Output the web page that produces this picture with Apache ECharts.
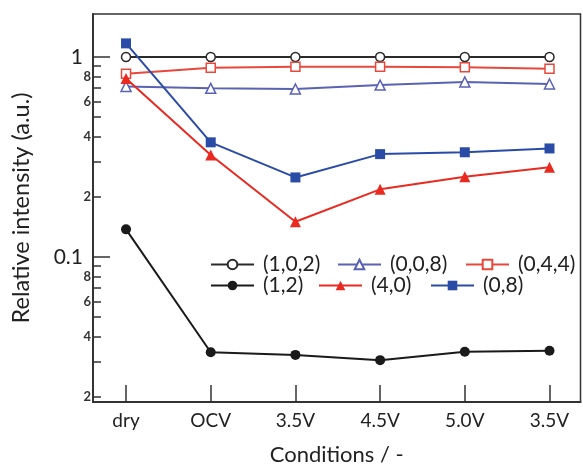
<!DOCTYPE html>
<html>
<head>
<meta charset="utf-8">
<script src="https://cdn.jsdelivr.net/npm/echarts@6/dist/echarts.min.js"></script>
<style>
html,body{margin:0;padding:0;background:#fff;}
#c{width:583px;height:467px;}
</style>
</head>
<body>
<div id="c"></div>
<script>
const categories = ['dry', 'OCV', '3.5V', '4.5V', '5.0V', '3.5V'];
const s102 = [1, 1, 1, 1, 1, 1];
const s008 = [0.713, 0.697, 0.692, 0.724, 0.75, 0.733];
const s044 = [0.825, 0.884, 0.895, 0.895, 0.89, 0.874];
const s12 = [0.1375, 0.0334, 0.0324, 0.0305, 0.0336, 0.034];
const s40 = [0.78, 0.324, 0.150, 0.218, 0.252, 0.281];
const s08 = [1.17, 0.3745, 0.250, 0.327, 0.334, 0.349];
const majorTicks = [0.1, 1];
const minorTicks = [0.02, 0.03, 0.04, 0.05, 0.06, 0.07, 0.08, 0.09, 0.2, 0.3, 0.4, 0.5, 0.6, 0.7, 0.8, 0.9];
const minorLabels = [0.02, 0.04, 0.06, 0.08, 0.2, 0.4, 0.6, 0.8];
const catIndex = [0, 1, 2, 3, 4, 5];
const seriesNames = ['(1,0,2)', '(0,0,8)', '(0,4,4)', '(1,2)', '(4,0)', '(0,8)'];

const FONT = 'Lato';
const pts = arr => arr.map((v, i) => [i, v]);

function mk(name, data, opts) {
  return Object.assign({
    name: name,
    type: 'line',
    data: pts(data),
    symbolSize: 10,
    lineStyle: { width: 2, color: opts.line },
    itemStyle: { color: opts.fill, borderColor: opts.line, borderWidth: opts.bw || 0 },
    emphasis: { disabled: true },
    animation: false
  }, opts.extra || {});
}

// legend placement (one legend per entry)
const legendPos = [[210, 254], [337, 254], [465, 254], [210, 275], [318, 275], [430, 275]];
const legends = seriesNames.map((n, i) => ({
  data: [n], left: legendPos[i][0], top: legendPos[i][1], padding: 0,
  itemWidth: 43, itemHeight: 12,
  textStyle: { fontFamily: FONT, fontSize: 21, color: '#222', padding: [0, 0, 0, 4] }
}));

const chart = echarts.init(document.getElementById('c'), null, { renderer: 'canvas' });
const option = {
  backgroundColor: '#fff',
  animation: false,
  textStyle: { fontFamily: FONT },
  grid: {
    left: 93, top: 14, right: 2.5, bottom: 65,
    show: true, borderColor: '#333', borderWidth: 1.5, backgroundColor: 'transparent',
    outerBoundsMode: 'none', containLabel: false
  },
  legend: legends,
  xAxis: {
    type: 'value',
    min: -0.39, max: 5.366,
    name: 'Conditions / -', nameLocation: 'middle', nameGap: 42,
    nameTextStyle: { fontFamily: FONT, fontSize: 22, color: '#222' },
    axisLine: { show: true, onZero: false, lineStyle: { color: '#333', width: 2 } },
    axisTick: { show: true, inside: true, length: 17, customValues: catIndex, lineStyle: { color: '#333', width: 1.5 } },
    axisLabel: { customValues: catIndex, fontFamily: FONT, fontSize: 19, color: '#222', margin: 9,
      formatter: v => categories[Math.round(v)] },
    splitLine: { show: false }
  },
  yAxis: [
    {
      type: 'log', logBase: 10, min: 0.01884, max: 1.641, position: 'left',
      name: 'Relative intensity (a.u.)', nameLocation: 'middle', nameGap: 60,
      nameTextStyle: { fontFamily: FONT, fontSize: 23.5, color: '#222' },
      axisLine: { show: true, onZero: false, lineStyle: { color: '#333', width: 2 } },
      axisTick: { show: true, inside: true, length: 17, customValues: majorTicks, lineStyle: { color: '#333', width: 1.5 } },
      axisLabel: { customValues: majorTicks, fontFamily: FONT, fontSize: 21, color: '#222', margin: 10,
        formatter: v => (v >= 1 ? '1' : '0.1') },
      splitLine: { show: false }, minorTick: { show: false }
    },
    {
      type: 'log', logBase: 10, min: 0.01884, max: 1.641, position: 'left', offset: 0,
      axisLine: { show: false, onZero: false },
      axisTick: { show: true, inside: true, length: 8, customValues: minorTicks, lineStyle: { color: '#333', width: 1.5 } },
      axisLabel: { customValues: minorLabels, fontFamily: FONT, fontSize: 13, fontWeight: 'bold', color: '#333', margin: 2,
        formatter: v => String(Math.round(v / Math.pow(10, Math.floor(Math.log10(v) + 1e-9)))) },
      splitLine: { show: false }, minorTick: { show: false }
    }
  ],
  series: [
    mk('(1,2)', s12, { line: '#1a1a1a', fill: '#1a1a1a', extra: { symbol: 'circle', symbolSize: 10 } }),
    mk('(1,0,2)', s102, { line: '#2a2a2a', fill: '#ffffff', bw: 1.5, extra: { symbol: 'circle', symbolSize: 9 } }),
    mk('(0,0,8)', s008, { line: '#5a62b4', fill: '#ffffff', bw: 1.5, extra: { symbol: 'triangle', symbolSize: 10 } }),
    mk('(0,4,4)', s044, { line: '#e8483c', fill: '#ffffff', bw: 1.5, extra: { symbol: 'rect', symbolSize: 9 } }),
    mk('(4,0)', s40, { line: '#e82a20', fill: '#e82a20', extra: { symbol: 'triangle', symbolSize: 11 } }),
    mk('(0,8)', s08, { line: '#2a4ca6', fill: '#2a4ca6', extra: { symbol: 'rect', symbolSize: 10 } })
  ]
};
chart.setOption(option);
</script>
</body>
</html>
